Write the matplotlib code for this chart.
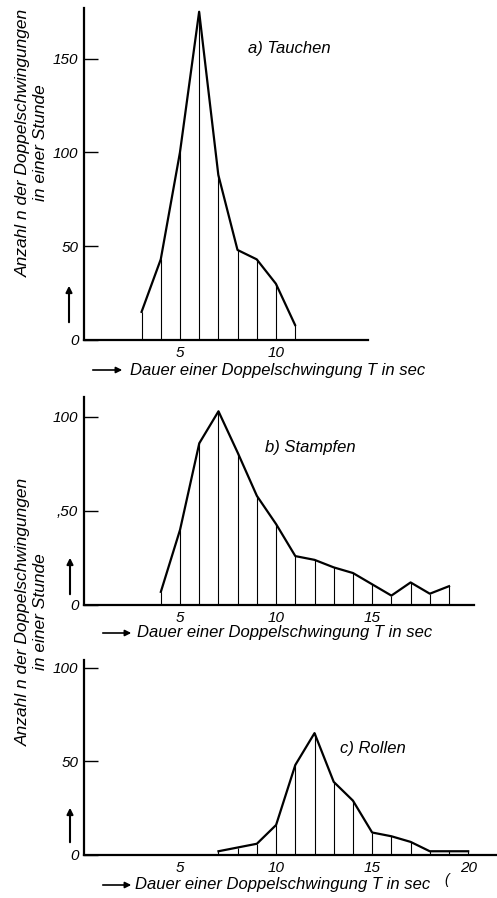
import matplotlib
matplotlib.use("Agg")
import matplotlib.pyplot as plt

plt.rcParams['font.family'] = ['Liberation Sans', 'DejaVu Sans']
plt.rcParams['font.style'] = 'italic'

# a) Tauchen
t_a = [3, 4, 5, 6, 7, 8, 9, 10, 11]
n_a = [15, 43, 100, 175, 88, 48, 43, 30, 8]
# b) Stampfen
t_b = [4, 5, 6, 7, 8, 9, 10, 11, 12, 13, 14, 15, 16, 17, 18, 19]
n_b = [7, 40, 86, 103, 81, 58, 43, 26, 24, 20, 17, 11, 5, 12, 6, 10]
# c) Rollen
t_c = [7, 8, 9, 10, 11, 12, 13, 14, 15, 16, 17, 18, 19, 20]
n_c = [2, 4, 6, 16, 48, 65, 39, 29, 12, 10, 7, 2, 2, 2]

xlabel = "Dauer einer Doppelschwingung T in sec"
ylabel = "Anzahl n der Doppelschwingungen\nin einer Stunde"

W, H = 497, 898
fig = plt.figure(figsize=(W / 100, H / 100), dpi=100)


def px(x, y):
    return x / W, 1 - y / H


panels = [
    # data, rect (px: left, y0, right, top), xlim, ylim, yticks, yticklabels, xticks, title pos, title
    (t_a, n_a, (84, 340, 368, 8), 14.8, 177, [0, 50, 100, 150], ['0', '50', '100', '150'], [5, 10], (248, 48), 'a) Tauchen'),
    (t_b, n_b, (84, 605, 474, 397), 20.3, 110.6, [0, 50, 100], ['0', ',50', '100'], [5, 10, 15], (265, 447), 'b) Stampfen'),
    (t_c, n_c, (84, 855, 497, 660), 21.5, 104, [0, 50, 100], ['0', '50', '100'], [5, 10, 15, 20], (340, 748), 'c) Rollen'),
]

for t, n, (l, y0, r, top), xmax, ymax, yt, ytl, xt, tpos, title in panels:
    ax = fig.add_axes([l / W, 1 - y0 / H, (r - l) / W, (y0 - top) / H])
    ax.plot(t, n, color='black', lw=1.6)
    ax.vlines(t, 0, n, color='black', lw=0.8)
    ax.set_xlim(0, xmax)
    ax.set_ylim(0, ymax)
    for s in ['top', 'right']:
        ax.spines[s].set_visible(False)
    for s in ['left', 'bottom']:
        ax.spines[s].set_linewidth(1.6)
    ax.set_yticks(yt)
    ax.set_yticklabels(ytl, fontsize=11)
    ax.set_xticks(xt)
    ax.set_xticklabels([str(v) for v in xt], fontsize=11)
    ax.tick_params(axis='y', direction='in', length=10, width=1.0, pad=4)
    ax.tick_params(axis='x', length=0, pad=4)
    fig.text(*px(*tpos), title, fontsize=12, ha='left', va='center')

# x-axis labels with arrows
for (ax0, ax1, ay, tx) in [(90, 125, 370, 130), (100, 134, 633, 137), (100, 134, 885, 135)]:
    fig.add_artist(matplotlib.patches.FancyArrowPatch(px(ax0, ay), px(ax1, ay), transform=fig.transFigure,
                                                      arrowstyle='-|>', mutation_scale=9, color='black', lw=1.2))
    fig.text(*px(tx, ay), xlabel, fontsize=12, ha='left', va='center')

# up arrows next to y-axes
for (ux, uy0, uy1) in [(69, 325, 283), (70, 597, 555), (70, 845, 805)]:
    fig.add_artist(matplotlib.patches.FancyArrowPatch(px(ux, uy0), px(ux, uy1), transform=fig.transFigure,
                                                      arrowstyle='-|>', mutation_scale=9, color='black', lw=1.5))

fig.text(*px(32, 143), ylabel, fontsize=12.5, rotation=90, ha='center', va='center', multialignment='center',
         linespacing=1.15)
fig.text(*px(32, 612), ylabel, fontsize=12.5, rotation=90, ha='center', va='center', multialignment='center',
         linespacing=1.15)
fig.text(*px(447, 880), '(', fontsize=10, ha='center', va='center')

fig.savefig('out.png', dpi=100)
